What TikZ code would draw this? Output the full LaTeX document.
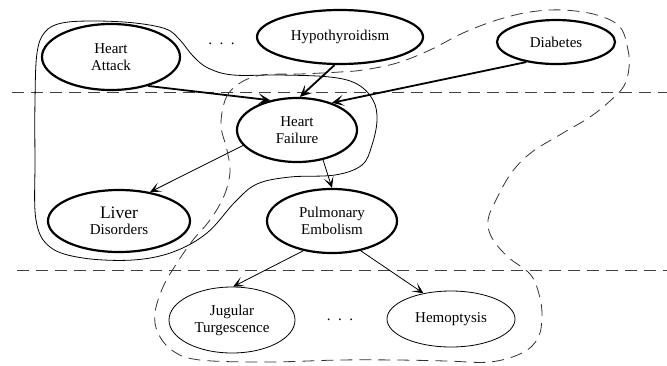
\documentclass[tikz,border=0pt]{standalone}
\usepackage{fontspec}
\setmainfont{Liberation Serif}
\newfontfamily\diagfont{Liberation Serif}
\usetikzlibrary{shapes.geometric,arrows.meta}
\begin{document}
\begin{tikzpicture}[x=1pt,y=-1pt,
  every node/.style={font=\diagfont\fontsize{15}{17}\selectfont, align=center},
  bn/.style={ellipse, draw, line width=2.2pt, inner sep=0pt},
  sn/.style={ellipse, draw, line width=0.8pt, inner sep=0pt},
  thickarr/.style={line width=1.8pt, -{Stealth[length=12pt,width=11pt,inset=6pt]}},
  thinarr/.style={line width=0.8pt, -{Stealth[length=11pt,width=10pt,inset=6pt]}},
  sep/.style={dash pattern=on 12pt off 7pt, line width=0.8pt, black!75},
  region/.style={line width=0.8pt},
  dregion/.style={dash pattern=on 12pt off 7pt, line width=0.8pt, black!80}]
\useasboundingbox (0,0) rectangle (667,365);

% separators
\coordinate (s1a) at (12,92);  \coordinate (s1b) at (667,92);
\coordinate (s2a) at (17,270); \coordinate (s2b) at (667,270);
\draw[sep] (s1a) -- (s1b);
\draw[sep] (s2a) -- (s2b);

% nodes
\node[bn, minimum width=138pt, minimum height=66pt] (ha) at (111,57) {Heart\\Attack};
\node[bn, minimum width=166pt, minimum height=54pt] (hy) at (340,37) {Hypothyroidism};
\node[bn, minimum width=118pt, minimum height=44pt] (di) at (556,42) {Diabetes};
\node[bn, minimum width=120pt, minimum height=64pt] (hf) at (297,130) {Heart\\Failure};
\node[bn, minimum width=142pt, minimum height=62pt] (li) at (119,221)
  {{\fontsize{17.5}{19}\selectfont Liver}\\[-1pt]Disorders};
\node[bn, minimum width=130pt, minimum height=64pt] (pe) at (332,221) {Pulmonary\\Embolism};
\node[sn, minimum width=126pt, minimum height=66pt] (jt) at (232,320) {Jugular\\Turgescence};
\node[sn, minimum width=128pt, minimum height=56pt] (he) at (451,319) {Hemoptysis};

\node[anchor=base] (dots1) at (221.5,44) {.\ \ .\ \ .};
\node[anchor=base] (dots2) at (340,320) {.\ \ .\ \ .};

% arrows
\draw[thickarr] (ha.-38) -- (hf.132);
\draw[thickarr] (hy.-101) -- (hf.85);
\draw[thickarr] (di.-146) -- (hf.38);
\draw[thinarr] (hf.-164) -- (li.43);
\draw[thinarr] (hf.-49) -- (pe.90);
\draw[thinarr] (pe.-134) -- (jt.88);
\draw[thinarr] (pe.-46) -- (he.137);

% solid region
\draw[region] plot[smooth cycle, tension=0.6] coordinates {
  (233,75) (280,75) (330,77) (357,84) (373,100) (377,120) (372,145) (362,165)
  (335,175) (290,177) (257,184) (235,202) (207,233) (173,252) (133,260)
  (83,258) (50,247) (36,220) (35,160) (35,100) (37,53) (45,32) (62,23)
  (95,21) (135,23) (166,29) (180,40) (193,56) (208,68)};

% dashed region
\draw[dregion] plot[smooth cycle, tension=0.6] coordinates {
  (221,125) (226,98) (240,83) (262,75) (300,74) (340,72) (363,70) (397,63)
  (430,50) (463,33) (497,20) (530,12) (563,10) (597,15) (620,27) (628,50)
  (629,68) (624,86) (610,101) (590,117) (563,133) (532,152) (512,172)
  (497,198) (488,220) (492,238) (508,257) (530,274) (539,294) (542,316)
  (538,338) (522,353) (490,362) (447,361) (397,360) (340,360) (267,362)
  (200,360) (173,351) (158,333) (155,313) (163,287) (177,263) (193,240)
  (210,220) (224,196) (230,172) (227,150)};
\end{tikzpicture}
\end{document}
